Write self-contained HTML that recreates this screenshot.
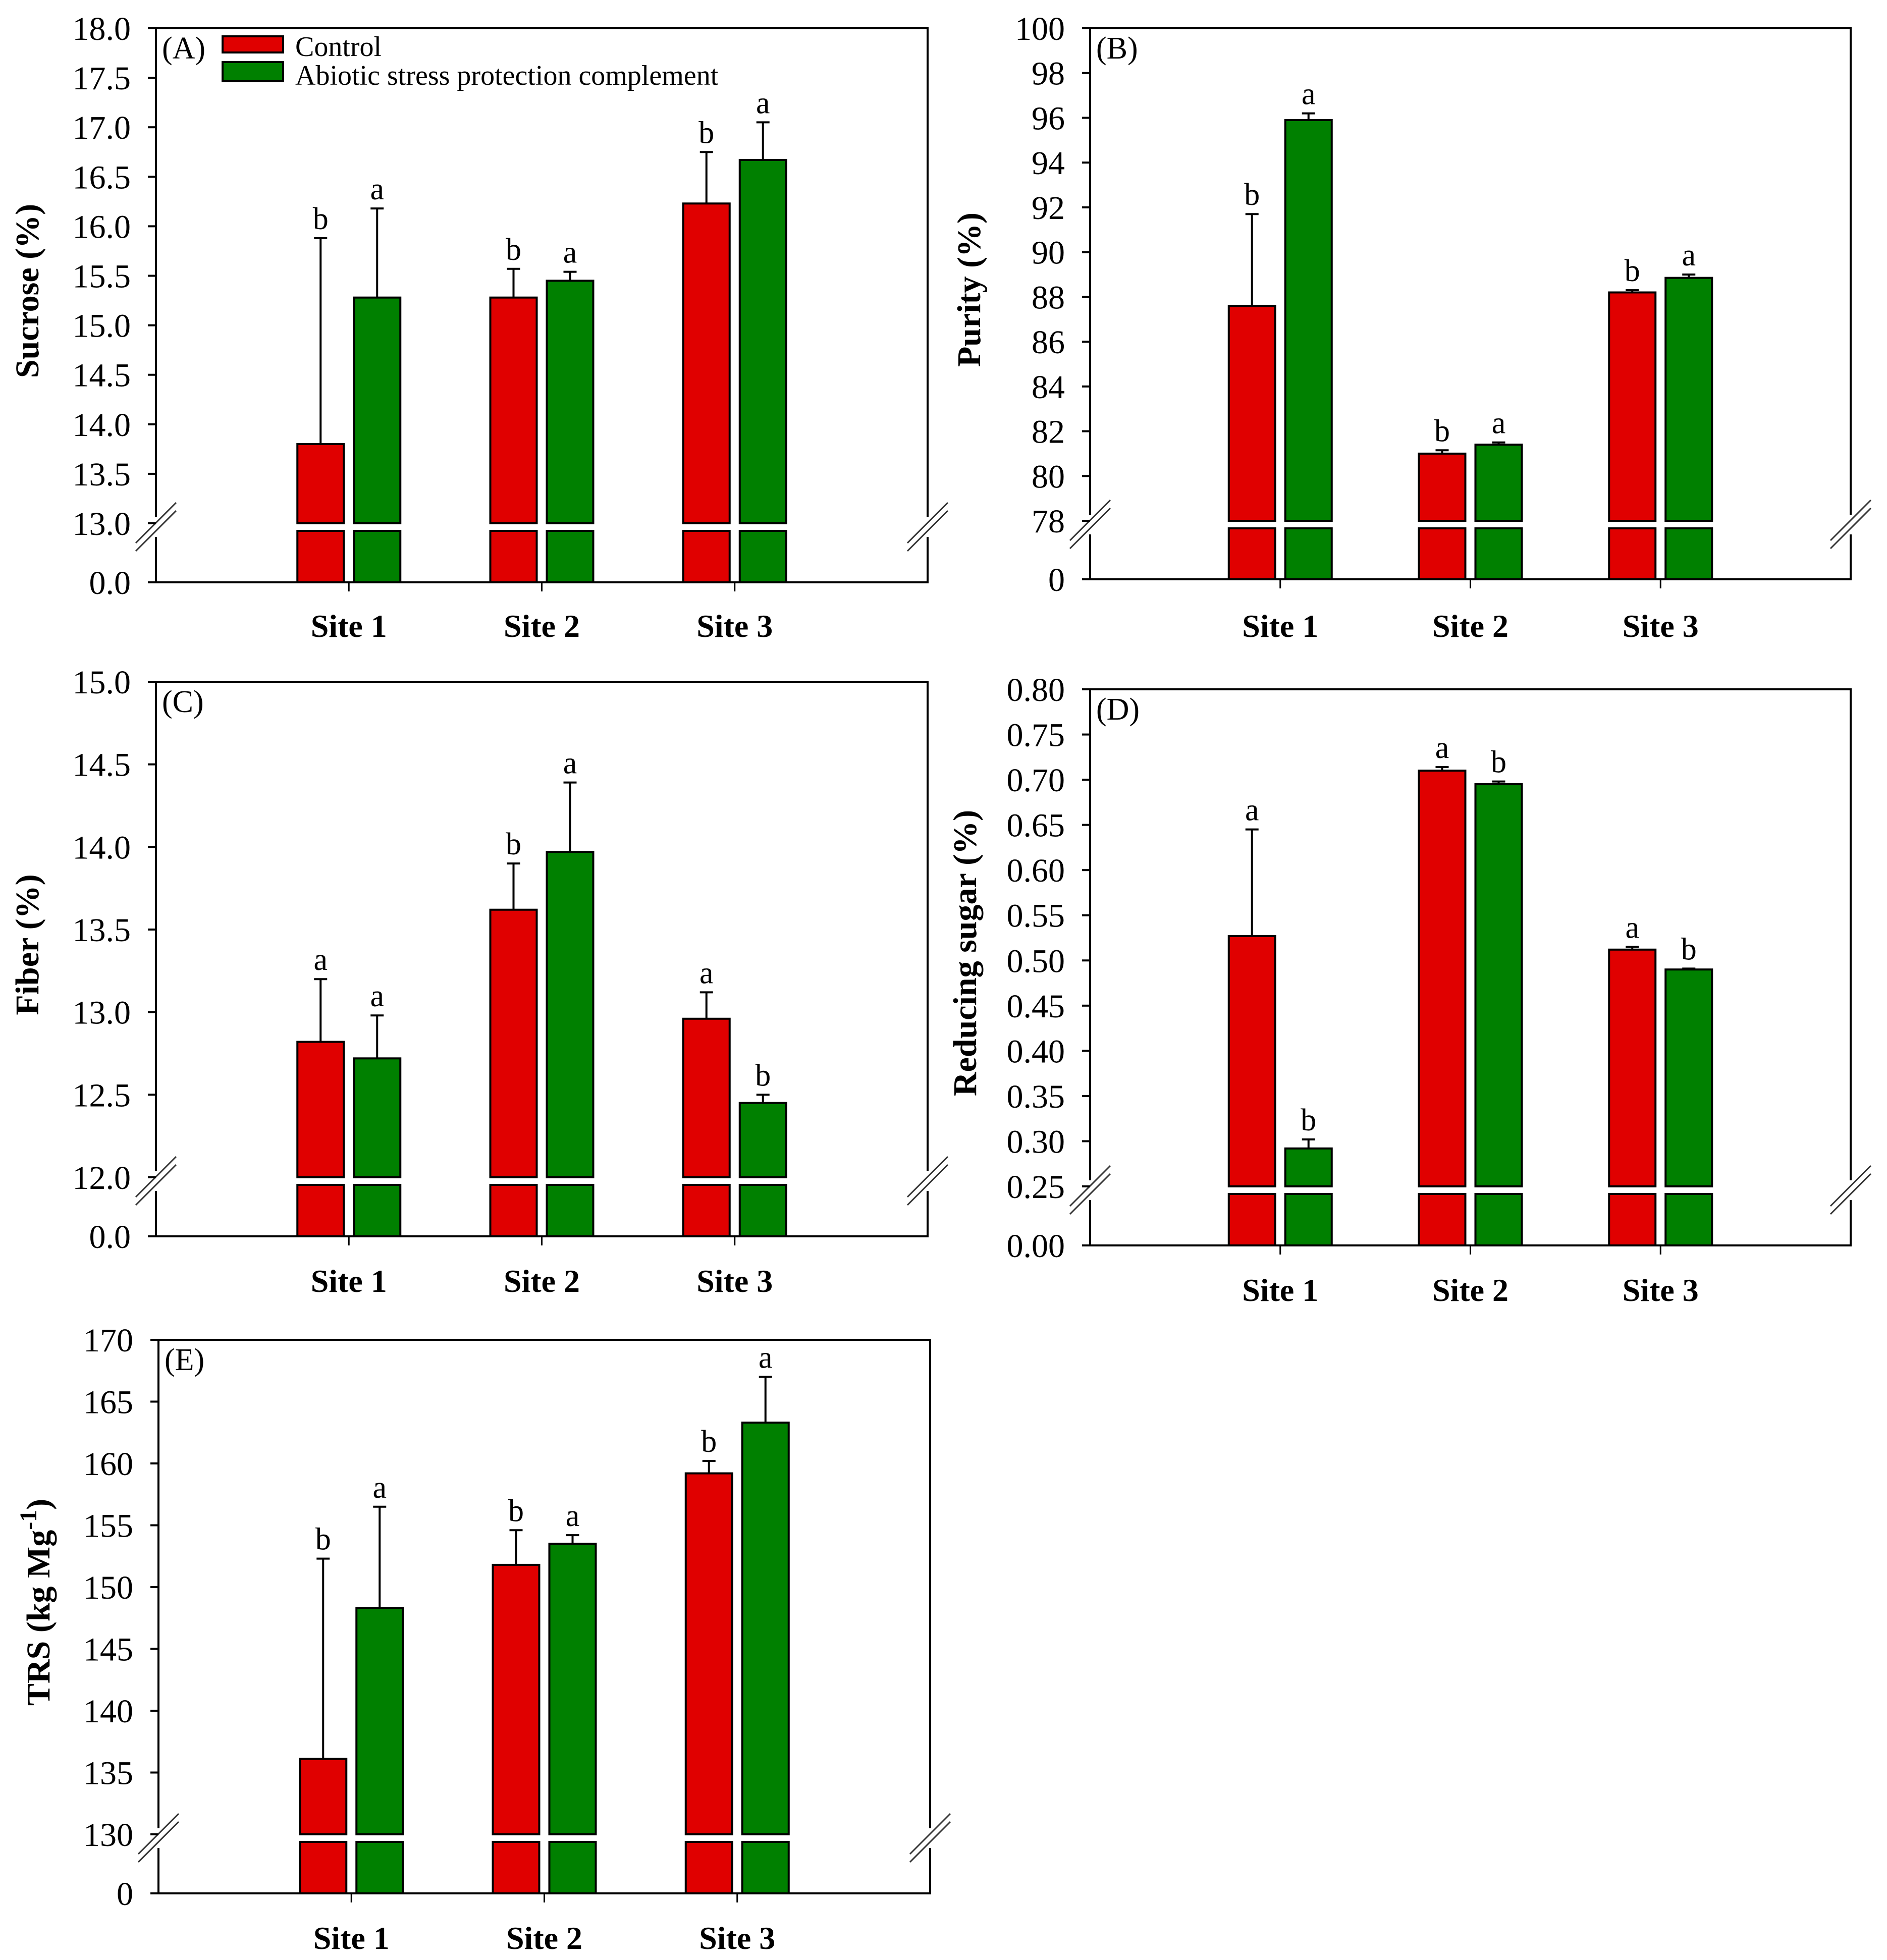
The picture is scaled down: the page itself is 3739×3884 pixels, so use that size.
<!DOCTYPE html>
<html><head><meta charset="utf-8"><style>
html,body{margin:0;padding:0;background:#fff}
svg{display:block}
text{font-family:"Liberation Serif",serif;fill:#000}
</style></head><body>
<svg id="fig" width="3739" height="3884" viewBox="0 0 3739 3884" xmlns="http://www.w3.org/2000/svg"></svg>
<script>
const categories = ["Site 1","Site 2","Site 3"];
const seriesNames = ["Control","Abiotic stress protection complement"];

const sucroseControl = [13.8, 15.28, 16.23];
const sucroseControlErr = [15.88, 15.57, 16.75];
const sucroseTreated = [15.28, 15.45, 16.67];
const sucroseTreatedErr = [16.18, 15.54, 17.05];
const sucroseControlLetters = ["b","b","b"];
const sucroseTreatedLetters = ["a","a","a"];

const purityControl = [87.6, 81.0, 88.2];
const purityControlErr = [91.7, 81.15, 88.3];
const purityTreated = [95.9, 81.4, 88.85];
const purityTreatedErr = [96.2, 81.5, 89.0];
const purityControlLetters = ["b","b","b"];
const purityTreatedLetters = ["a","a","a"];

const fiberControl = [12.82, 13.62, 12.96];
const fiberControlErr = [13.2, 13.9, 13.12];
const fiberTreated = [12.72, 13.97, 12.45];
const fiberTreatedErr = [12.98, 14.39, 12.5];
const fiberControlLetters = ["a","b","a"];
const fiberTreatedLetters = ["a","a","b"];

const sugarControl = [0.527, 0.710, 0.512];
const sugarControlErr = [0.645, 0.714, 0.515];
const sugarTreated = [0.292, 0.695, 0.490];
const sugarTreatedErr = [0.302, 0.698, 0.491];
const sugarControlLetters = ["a","a","a"];
const sugarTreatedLetters = ["b","b","b"];

const trsControl = [136.1, 151.8, 159.2];
const trsControlErr = [152.3, 154.6, 160.2];
const trsTreated = [148.3, 153.5, 163.3];
const trsTreatedErr = [156.5, 154.2, 167.0];
const trsControlLetters = ["b","b","b"];
const trsTreatedLetters = ["a","a","a"];

const NS = "http://www.w3.org/2000/svg";
const svg = document.getElementById("fig");
function mk(tag, attrs, parent, text){
  const e = document.createElementNS(NS, tag);
  for (const k in attrs) e.setAttribute(k, attrs[k]);
  if (text !== undefined) e.textContent = text;
  (parent||svg).appendChild(e);
  return e;
}
const RED="#e00000", GREEN="#008000";

function panel(p){
  const g = mk("g",{});
  
  
  const L=p.left,R=p.right,T=p.top,B=p.bottom,YB=p.yBreak,YL=p.yBreak+15;
  const y = v => YB - (v - p.min)/(p.max - p.min)*(YB - T);
  const plotW = R-L;
  const cx = i => L + plotW*(0.25 + 0.25*i);
  const fr = mk("path",{d:`M${L},${YB-12} L${L},${T} L${R},${T} L${R},${YB-12} M${L},${YL+12} L${L},${B} L${R},${B} L${R},${YL+12}`,fill:"none",stroke:"#000","stroke-width":4},g);
  
  
  [L,R].forEach(x=>{
    [-8,8].forEach(d=>{
      const s = mk("line",{x1:x-40,y1:YB+7+d+40,x2:x+40,y2:YB+7+d-40,stroke:"#333","stroke-width":3},g);
      
      
    });
  });
  const n = Math.round((p.max-p.min)/p.step);
  for(let k=0;k<=n;k++){
    const v = p.min + k*p.step;
    const yy = y(v);
    mk("line",{x1:L-16,y1:yy,x2:L,y2:yy,stroke:"#000","stroke-width":4},g);
    const t = mk("text",{x:L-50,y:yy+23,"text-anchor":"end","font-size":66},g,v.toFixed(p.dec));
    
    
  }
  mk("line",{x1:L-16,y1:B,x2:L,y2:B,stroke:"#000","stroke-width":4},g);
  const z = mk("text",{x:L-50,y:B+23,"text-anchor":"end","font-size":66},g,p.zero);
  
  
  const bw=92, gap=20;
  const series=[[p.c,p.ce,p.cl,RED,-1],[p.t,p.te,p.tl,GREEN,1]];
  categories.forEach((c,i)=>{
    const X=cx(i);
    mk("line",{x1:X,y1:B,x2:X,y2:B+18,stroke:"#000","stroke-width":3},g);
    const cl = mk("text",{x:X,y:p.siteY,"text-anchor":"middle","font-size":64,"font-weight":"bold"},g,c);
    
    
    series.forEach(([vals,errs,lets,col,side],si)=>{
      const x0 = side<0 ? X-gap/2-bw : X+gap/2;
      const top = y(vals[i]);
      const b1 = mk("rect",{x:x0,y:top,width:bw,height:YB-top,fill:col,stroke:"#000","stroke-width":4},g);
      
      
      const b2 = mk("rect",{x:x0,y:YL,width:bw,height:B-YL,fill:col,stroke:"#000","stroke-width":4},g);
      
      
      const ex = x0+bw/2, et = y(errs[i]);
      const eb = mk("path",{d:`M${ex},${top} L${ex},${et} M${ex-13},${et} L${ex+13},${et}`,stroke:"#000","stroke-width":4,fill:"none"},g);
      
      
      const lt = mk("text",{x:ex,y:et-18,"text-anchor":"middle","font-size":62},g,lets[i]);
      
      
    });
  });
  const pl = mk("text",{x:L+12,y:T+60,"font-size":62},g,"("+p.id+")");
  
  
  const ty = (T+YB)/2 + 30;
  const at = mk("text",{x:0,y:0,"text-anchor":"middle","font-size":66,"font-weight":"bold",transform:`translate(${p.titleX},${ty}) rotate(-90)`},g);
  
  
  at.textContent = p.title;
  if(p.sup){ mk("tspan",{"baseline-shift":"super","font-size":48},at,p.sup); mk("tspan",{},at,")"); }
  return g;
}

panel({id:"A",left:309,right:1838,top:56,bottom:1154,yBreak:1037,min:13,max:18,step:0.5,dec:1,zero:"0.0",
  c:sucroseControl,ce:sucroseControlErr,cl:sucroseControlLetters,t:sucroseTreated,te:sucroseTreatedErr,tl:sucroseTreatedLetters,
  title:"Sucrose (%)",titleX:76,siteY:1262});
panel({id:"B",left:2160,right:3667,top:56,bottom:1148,yBreak:1032,min:78,max:100,step:2,dec:0,zero:"0",
  c:purityControl,ce:purityControlErr,cl:purityControlLetters,t:purityTreated,te:purityTreatedErr,tl:purityTreatedLetters,
  title:"Purity (%)",titleX:1942,siteY:1262});
panel({id:"C",left:309,right:1838,top:1351,bottom:2450,yBreak:2333,min:12,max:15,step:0.5,dec:1,zero:"0.0",
  c:fiberControl,ce:fiberControlErr,cl:fiberControlLetters,t:fiberTreated,te:fiberTreatedErr,tl:fiberTreatedLetters,
  title:"Fiber (%)",titleX:76,siteY:2560});
panel({id:"D",left:2160,right:3667,top:1366,bottom:2468,yBreak:2351,min:0.25,max:0.80,step:0.05,dec:2,zero:"0.00",
  c:sugarControl,ce:sugarControlErr,cl:sugarControlLetters,t:sugarTreated,te:sugarTreatedErr,tl:sugarTreatedLetters,
  title:"Reducing sugar (%)",titleX:1934,siteY:2578});
panel({id:"E",left:314,right:1843,top:2655,bottom:3752,yBreak:3635,min:130,max:170,step:5,dec:0,zero:"0",
  c:trsControl,ce:trsControlErr,cl:trsControlLetters,t:trsTreated,te:trsTreatedErr,tl:trsTreatedLetters,
  title:"TRS (kg Mg",sup:"-1",titleX:98,siteY:3862});

const lg = mk("g",{});


const s1 = mk("rect",{x:441,y:72,width:120,height:32,fill:RED,stroke:"#000","stroke-width":4},lg);


const t1 = mk("text",{x:585,y:111,"font-size":56},lg,seriesNames[0]);


const s2 = mk("rect",{x:441,y:123,width:120,height:38,fill:GREEN,stroke:"#000","stroke-width":4},lg);


const t2 = mk("text",{x:585,y:168,"font-size":56},lg,seriesNames[1]);


</script>
</body></html>
